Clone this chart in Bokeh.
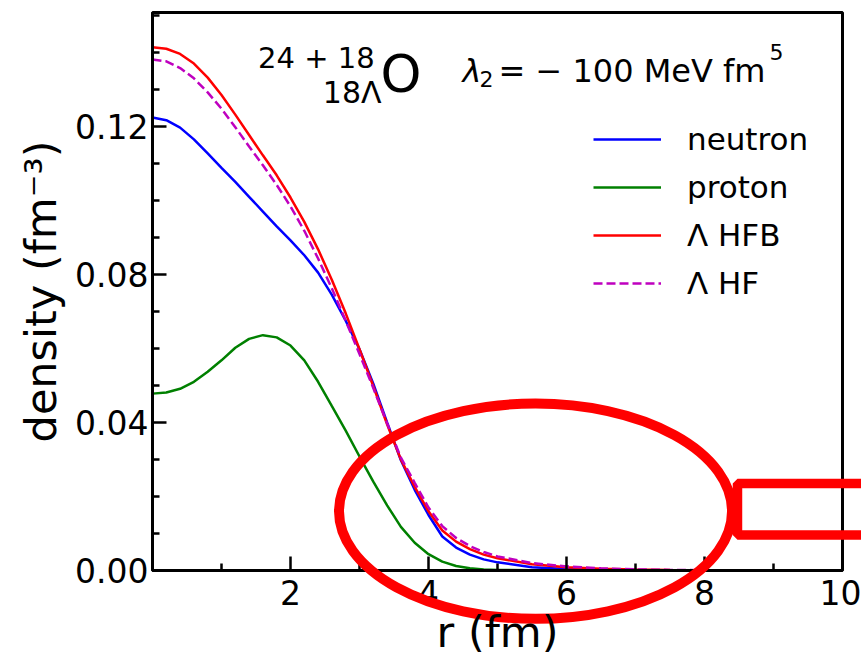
import numpy as np
from bokeh.plotting import figure
from bokeh.layouts import column
from bokeh.models import (FixedTicker, NumeralTickFormatter, Legend, LegendItem,
                          Label, Range1d, GridBox)
from bokeh.embed import file_html
from bokeh.resources import INLINE

# radial grid (fm)
r = [0.0, 0.2, 0.4, 0.6, 0.8, 1.0, 1.2, 1.4, 1.6, 1.8, 2.0, 2.2, 2.4, 2.6, 2.8,
     3.0, 3.2, 3.4, 3.6, 3.8, 4.0, 4.2, 4.4, 4.6, 4.8, 5.0, 5.5, 6.0, 6.5, 7.0,
     7.5, 8.0, 9.0, 10.0]

# densities (fm^-3)
neutron = [0.1224, 0.1217, 0.1197, 0.1165, 0.1127, 0.1088, 0.1050, 0.1010, 0.0970,
           0.0930, 0.0892, 0.0852, 0.0805, 0.0745, 0.0675, 0.0598, 0.0505, 0.0400,
           0.0298, 0.0218, 0.0150, 0.0092, 0.0062, 0.0043, 0.0030, 0.0022, 0.0009,
           0.0004, 0.00015, 0.00006, 0.00002, 0.0, 0.0, 0.0]
proton = [0.0478, 0.0481, 0.0491, 0.0510, 0.0537, 0.0568, 0.0602, 0.0626, 0.0636,
          0.0630, 0.0608, 0.0568, 0.0510, 0.0444, 0.0378, 0.0308, 0.0240, 0.0176,
          0.0118, 0.0075, 0.0044, 0.0024, 0.0012, 0.0006, 0.0003, 0.00015, 0.00004,
          0.0, 0.0, 0.0, 0.0, 0.0, 0.0, 0.0]
lambda_hfb = [0.1414, 0.1410, 0.1396, 0.1370, 0.1332, 0.1285, 0.1232, 0.1177, 0.1122,
              0.1068, 0.1008, 0.0942, 0.0868, 0.0785, 0.0695, 0.0598, 0.0498, 0.0395,
              0.0300, 0.0226, 0.0160, 0.0108, 0.0078, 0.0058, 0.0043, 0.0033, 0.0017,
              0.0009, 0.0005, 0.00025, 0.00012, 0.00006, 0.00001, 0.0]
lambda_hf = [0.1381, 0.1376, 0.1358, 0.1330, 0.1292, 0.1248, 0.1198, 0.1146, 0.1095,
             0.1042, 0.0984, 0.0918, 0.0843, 0.0762, 0.0675, 0.0585, 0.0493, 0.0398,
             0.0305, 0.0237, 0.0170, 0.0120, 0.0088, 0.0066, 0.0050, 0.0038, 0.0020,
             0.0011, 0.0006, 0.0003, 0.00015, 0.00007, 0.00001, 0.0]

series_labels = ["neutron", "proton", "\u039b HFB", "\u039b HF"]
x_major = [2, 4, 6, 8, 10]
x_minor = [1, 3, 5, 7, 9]
y_major = [0.0, 0.04, 0.08, 0.12]
y_minor = [0.01, 0.02, 0.03, 0.05, 0.06, 0.07, 0.09, 0.10, 0.11, 0.13, 0.14, 0.15]

FONT = "DejaVu Sans"
W, H = 861, 659
BORDER_L, BORDER_R, BORDER_T, BORDER_B = 152, 19, 12, 89
X0, X1 = 0.0, 10.0
Y0, Y1 = 0.0, 0.1508

p = figure(width=W, height=H, output_backend="svg", toolbar_location=None,
           x_range=Range1d(X0, X1), y_range=Range1d(Y0, Y1),
           min_border_left=BORDER_L, min_border_right=BORDER_R,
           min_border_top=BORDER_T, min_border_bottom=BORDER_B)
p.background_fill_color = "white"
p.border_fill_color = "white"
p.outline_line_color = "black"
p.outline_line_width = 3
p.xgrid.visible = False
p.ygrid.visible = False

p.xaxis.ticker = FixedTicker(ticks=x_major, minor_ticks=x_minor)
p.yaxis.ticker = FixedTicker(ticks=y_major, minor_ticks=y_minor)
p.yaxis.formatter = NumeralTickFormatter(format="0.00")
for ax in (p.xaxis, p.yaxis):
    ax.axis_line_width = 3
    ax.major_tick_in = 14
    ax.major_tick_out = 0
    ax.minor_tick_in = 7
    ax.minor_tick_out = 0
    ax.major_tick_line_width = 2.5
    ax.minor_tick_line_width = 2.5
    ax.major_label_text_font = FONT
    ax.major_label_text_font_size = "33px"
    ax.major_label_text_color = "black"
    ax.axis_label_text_font = FONT
    ax.axis_label_text_font_size = "43px"
    ax.axis_label_text_font_style = "normal"
    ax.axis_label_text_color = "black"
p.xaxis.major_label_standoff = 9
p.yaxis.major_label_standoff = 4
p.yaxis.axis_label = "density (fm\u207b\u00b3)"
p.yaxis.axis_label_standoff = 6

lw = 2.5
l_n = p.line(r, neutron, line_color="#0000ff", line_width=lw)
l_p = p.line(r, proton, line_color="#008000", line_width=lw)
l_b = p.line(r, lambda_hfb, line_color="#ff0000", line_width=lw)
l_f = p.line(r, lambda_hf, line_color="#bf00bf", line_width=lw, line_dash="9 4")

legend = Legend(items=[LegendItem(label=series_labels[0], renderers=[l_n]),
                       LegendItem(label=series_labels[1], renderers=[l_p]),
                       LegendItem(label=series_labels[2], renderers=[l_b]),
                       LegendItem(label=series_labels[3], renderers=[l_f])],
                location=(441, 267), padding=0, margin=0, spacing=8,
                glyph_width=68, glyph_height=40, label_height=40,
                label_standoff=26, label_text_font=FONT,
                label_text_font_size="31px", label_text_color="black",
                border_line_color=None, background_fill_alpha=0)
p.add_layout(legend)


def txt(fig, x, y, s, size, align="left", style="normal"):
    fig.add_layout(Label(x=x, y=y, text=s, text_font=FONT, text_font_size=size,
                         text_align=align, text_baseline="alphabetic",
                         text_font_style=style, text_color="black"))


# nucleus symbol with mass numbers
txt(p, 1.53, 0.1386, "24 + 18", "29px")
txt(p, 3.319, 0.1292, "18\u039b", "30px", align="right")
txt(p, 3.304, 0.1343, "O", "52px")
# coupling constant
txt(p, 4.493, 0.1351, "\u03bb", "32px", style="italic")
txt(p, 4.739, 0.1327, "2", "22px")
txt(p, 5.014, 0.1351, "= \u2212 100 MeV fm", "32px")
txt(p, 8.942, 0.1402, "5", "22px")

# transparent layer over the whole canvas for the highlight marks,
# sharing the data coordinates of the main frame
fw = W - BORDER_L - BORDER_R
fh = H - BORDER_T - BORDER_B
sx = (X1 - X0) / fw
sy = (Y1 - Y0) / fh
hl = figure(width=W, height=H, output_backend="svg", toolbar_location=None,
            x_range=Range1d(X0 - BORDER_L * sx, X1 + BORDER_R * sx),
            y_range=Range1d(Y0 - BORDER_B * sy, Y1 + BORDER_T * sy),
            x_axis_type=None, y_axis_type=None, min_border=0)
hl.background_fill_alpha = 0
hl.border_fill_alpha = 0
hl.outline_line_color = None
hl.xgrid.visible = False
hl.ygrid.visible = False

# x-axis title
txt(hl, 5.0, -0.0167, "r (fm)", "43px", align="center")

# highlighted tail region: ellipse plus attached box
ell_center = (5.551, 0.01603)
ell_size = (5.696, 0.05819)
box_edges = dict(left=8.478, right=10.6, bottom=0.00959, top=0.02351)
hl.ellipse(x=[ell_center[0]], y=[ell_center[1]], width=[ell_size[0]],
           height=[ell_size[1]], fill_alpha=0, line_color="#ff0000", line_width=10)
hl.quad(left=[box_edges["left"]], right=[box_edges["right"]],
        bottom=[box_edges["bottom"]], top=[box_edges["top"]],
        fill_alpha=0, line_color="#ff0000", line_width=9.5)

layout = GridBox(children=[(p, 0, 0), (column(hl), 0, 0)])
open("out.html", "w").write(file_html(layout, INLINE))
